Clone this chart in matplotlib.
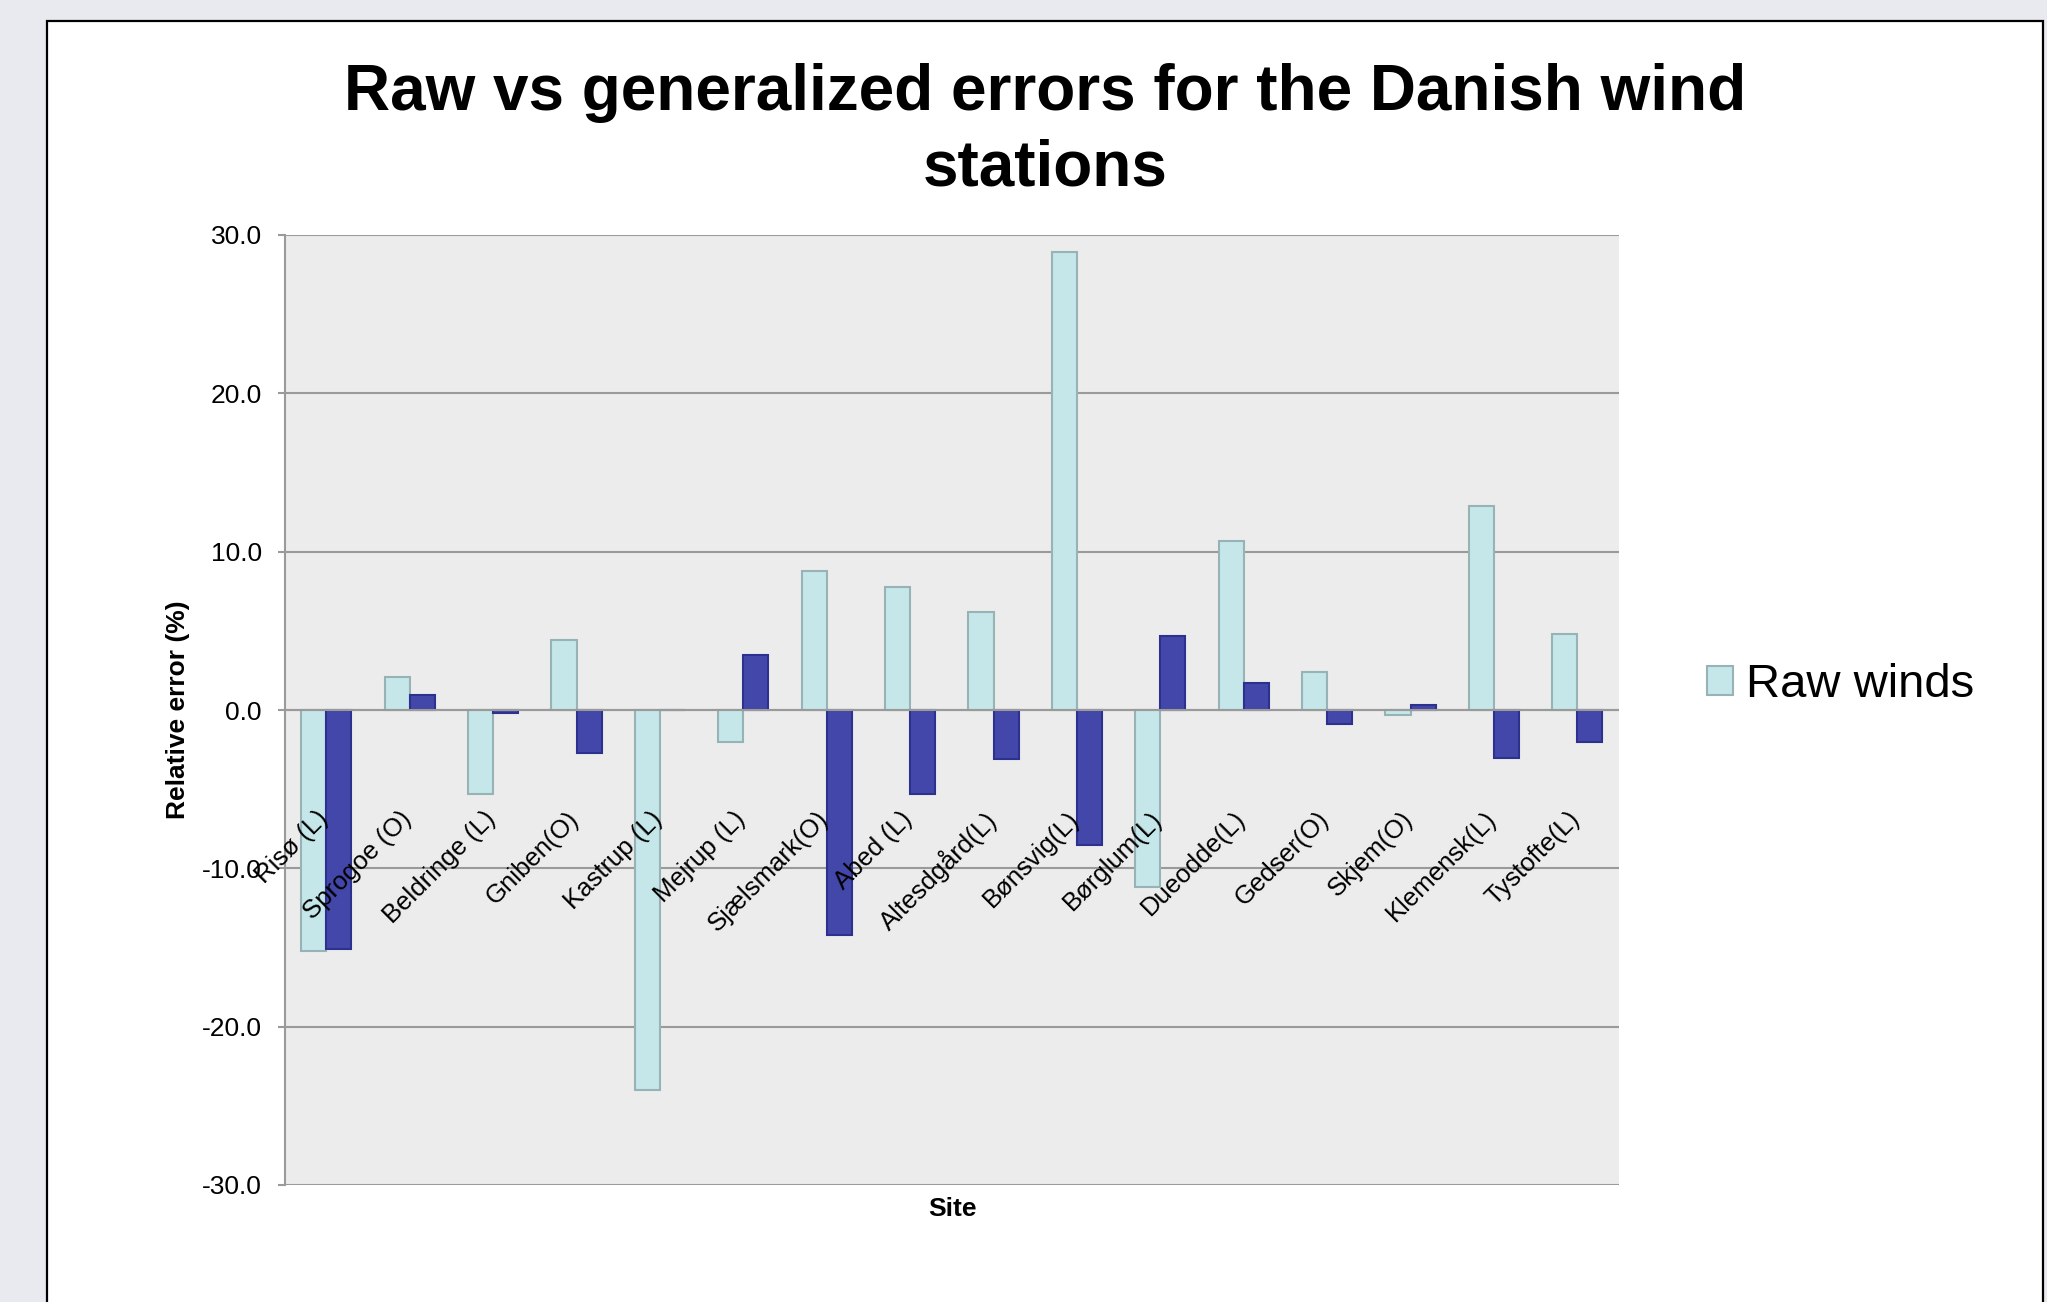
import numpy as np
import matplotlib
matplotlib.use("Agg")
import matplotlib.pyplot as plt
from matplotlib.patches import Rectangle, Patch

plt.rcParams['font.family'] = ['Liberation Sans', 'DejaVu Sans']

# ---- data ----
sites = ["Risø (L)", "Sprogoe (O)", "Beldringe (L)", "Gniben(O)", "Kastrup (L)",
         "Mejrup (L)", "Sjælsmark(O)", "Abed (L)", "Altesdgård(L)", "Bønsvig(L)",
         "Børglum(L)", "Dueodde(L)", "Gedser(O)", "Skjem(O)", "Klemensk(L)",
         "Tystofte(L)"]
raw_winds = [-15.2, 2.1, -5.3, 4.4, -24.0, -2.0, 8.8, 7.8, 6.2, 28.9,
             -11.2, 10.7, 2.4, -0.3, 12.9, 4.8]
generalized_winds = [-15.1, 0.95, -0.2, -2.7, 0.0, 3.5, -14.2, -5.3, -3.1, -8.5,
                     4.7, 1.7, -0.9, 0.3, -3.0, -2.0]
yticks = [-30, -20, -10, 0, 10, 20, 30]
ytick_labels = ["-30.0", "-20.0", "-10.0", "0.0", "10.0", "20.0", "30.0"]
title_lines = ["Raw vs generalized errors for the Danish wind", "stations"]
series_names = ["Raw winds", "Generalized winds"]

# ---- style ----
W, H = 2047, 1302
raw_fc, raw_ec = "#c6e7e9", "#97b3b5"
gen_fc, gen_ec = "#4347a9", "#2c3190"
grid_c = "#9a9a9a"

fig = plt.figure(figsize=(W / 100, H / 100), dpi=100)
fig.patch.set_facecolor("#e9eaef")

# white chart area with black border
fig.patches.append(Rectangle((47 / W, -0.02), (2043 - 47) / W, 1 - 21 / H + 0.02,
                             transform=fig.transFigure, facecolor="white",
                             edgecolor="black", linewidth=1.6, zorder=-10))

ax = fig.add_axes([284.6 / W, (H - 1185) / H, (1619 - 284.6) / W, (1185 - 235) / H])
ax.set_zorder(1)
ax.set_facecolor("#ececec")

x = np.arange(len(sites))
bw = 0.3
ax.bar(x - bw / 2, raw_winds, width=bw, color=raw_fc, edgecolor=raw_ec,
       linewidth=1.5, zorder=2, label=series_names[0])
ax.bar(x + bw / 2, generalized_winds, width=bw, color=gen_fc, edgecolor=gen_ec,
       linewidth=1.5, zorder=2, label=series_names[1])

ax.set_xlim(-0.5, len(sites) - 0.5)
ax.set_ylim(-30, 30)
ax.set_yticks(yticks)
ax.set_yticklabels(ytick_labels, fontsize=19)
ax.set_xticks([])
ax.yaxis.grid(True, color=grid_c, linewidth=1.5, zorder=1)
ax.set_axisbelow(True)
ax.axhline(0, color=grid_c, linewidth=1.5, zorder=3)
for s in ["top", "right", "bottom"]:
    ax.spines[s].set_visible(False)
ax.spines["left"].set_color(grid_c)
ax.spines["left"].set_linewidth(1.5)
ax.tick_params(axis="y", length=5, width=1.5, color=grid_c, pad=11.5)

# category labels, rotated
for i, name in enumerate(sites):
    ax.text(i - 0.12, -6.1, name, rotation=45, ha="right", va="top",
            rotation_mode="anchor", fontsize=18.5, zorder=4)

# axis titles
fig.text(178 / W, 1 - 710 / H, "Relative error (%)", rotation=90, ha="center",
         va="center", fontsize=19, fontweight="bold")
fig.text(952.5 / W, 1 - 1216 / H, "Site", ha="center", va="baseline",
         fontsize=19, fontweight="bold")

# title
fig.text(1045 / W, 1 - 110 / H, title_lines[0], ha="center", va="baseline",
         fontsize=46, fontweight="bold")
fig.text(1045 / W, 1 - 185 / H, title_lines[1], ha="center", va="baseline",
         fontsize=46, fontweight="bold")

# legend (only the first series is visible in the reference)
handles = [Patch(facecolor=raw_fc, edgecolor=raw_ec, linewidth=1.5)]
fig.legend(handles, [series_names[0]], loc="center left",
           bbox_to_anchor=(1707 / W, 1 - 685 / H), bbox_transform=fig.transFigure,
           fontsize=34, frameon=False, handlelength=0.55, handleheight=0.55,
           handletextpad=0.28, borderpad=0, borderaxespad=0)

fig.savefig("out.png", dpi=100, facecolor=fig.get_facecolor())
